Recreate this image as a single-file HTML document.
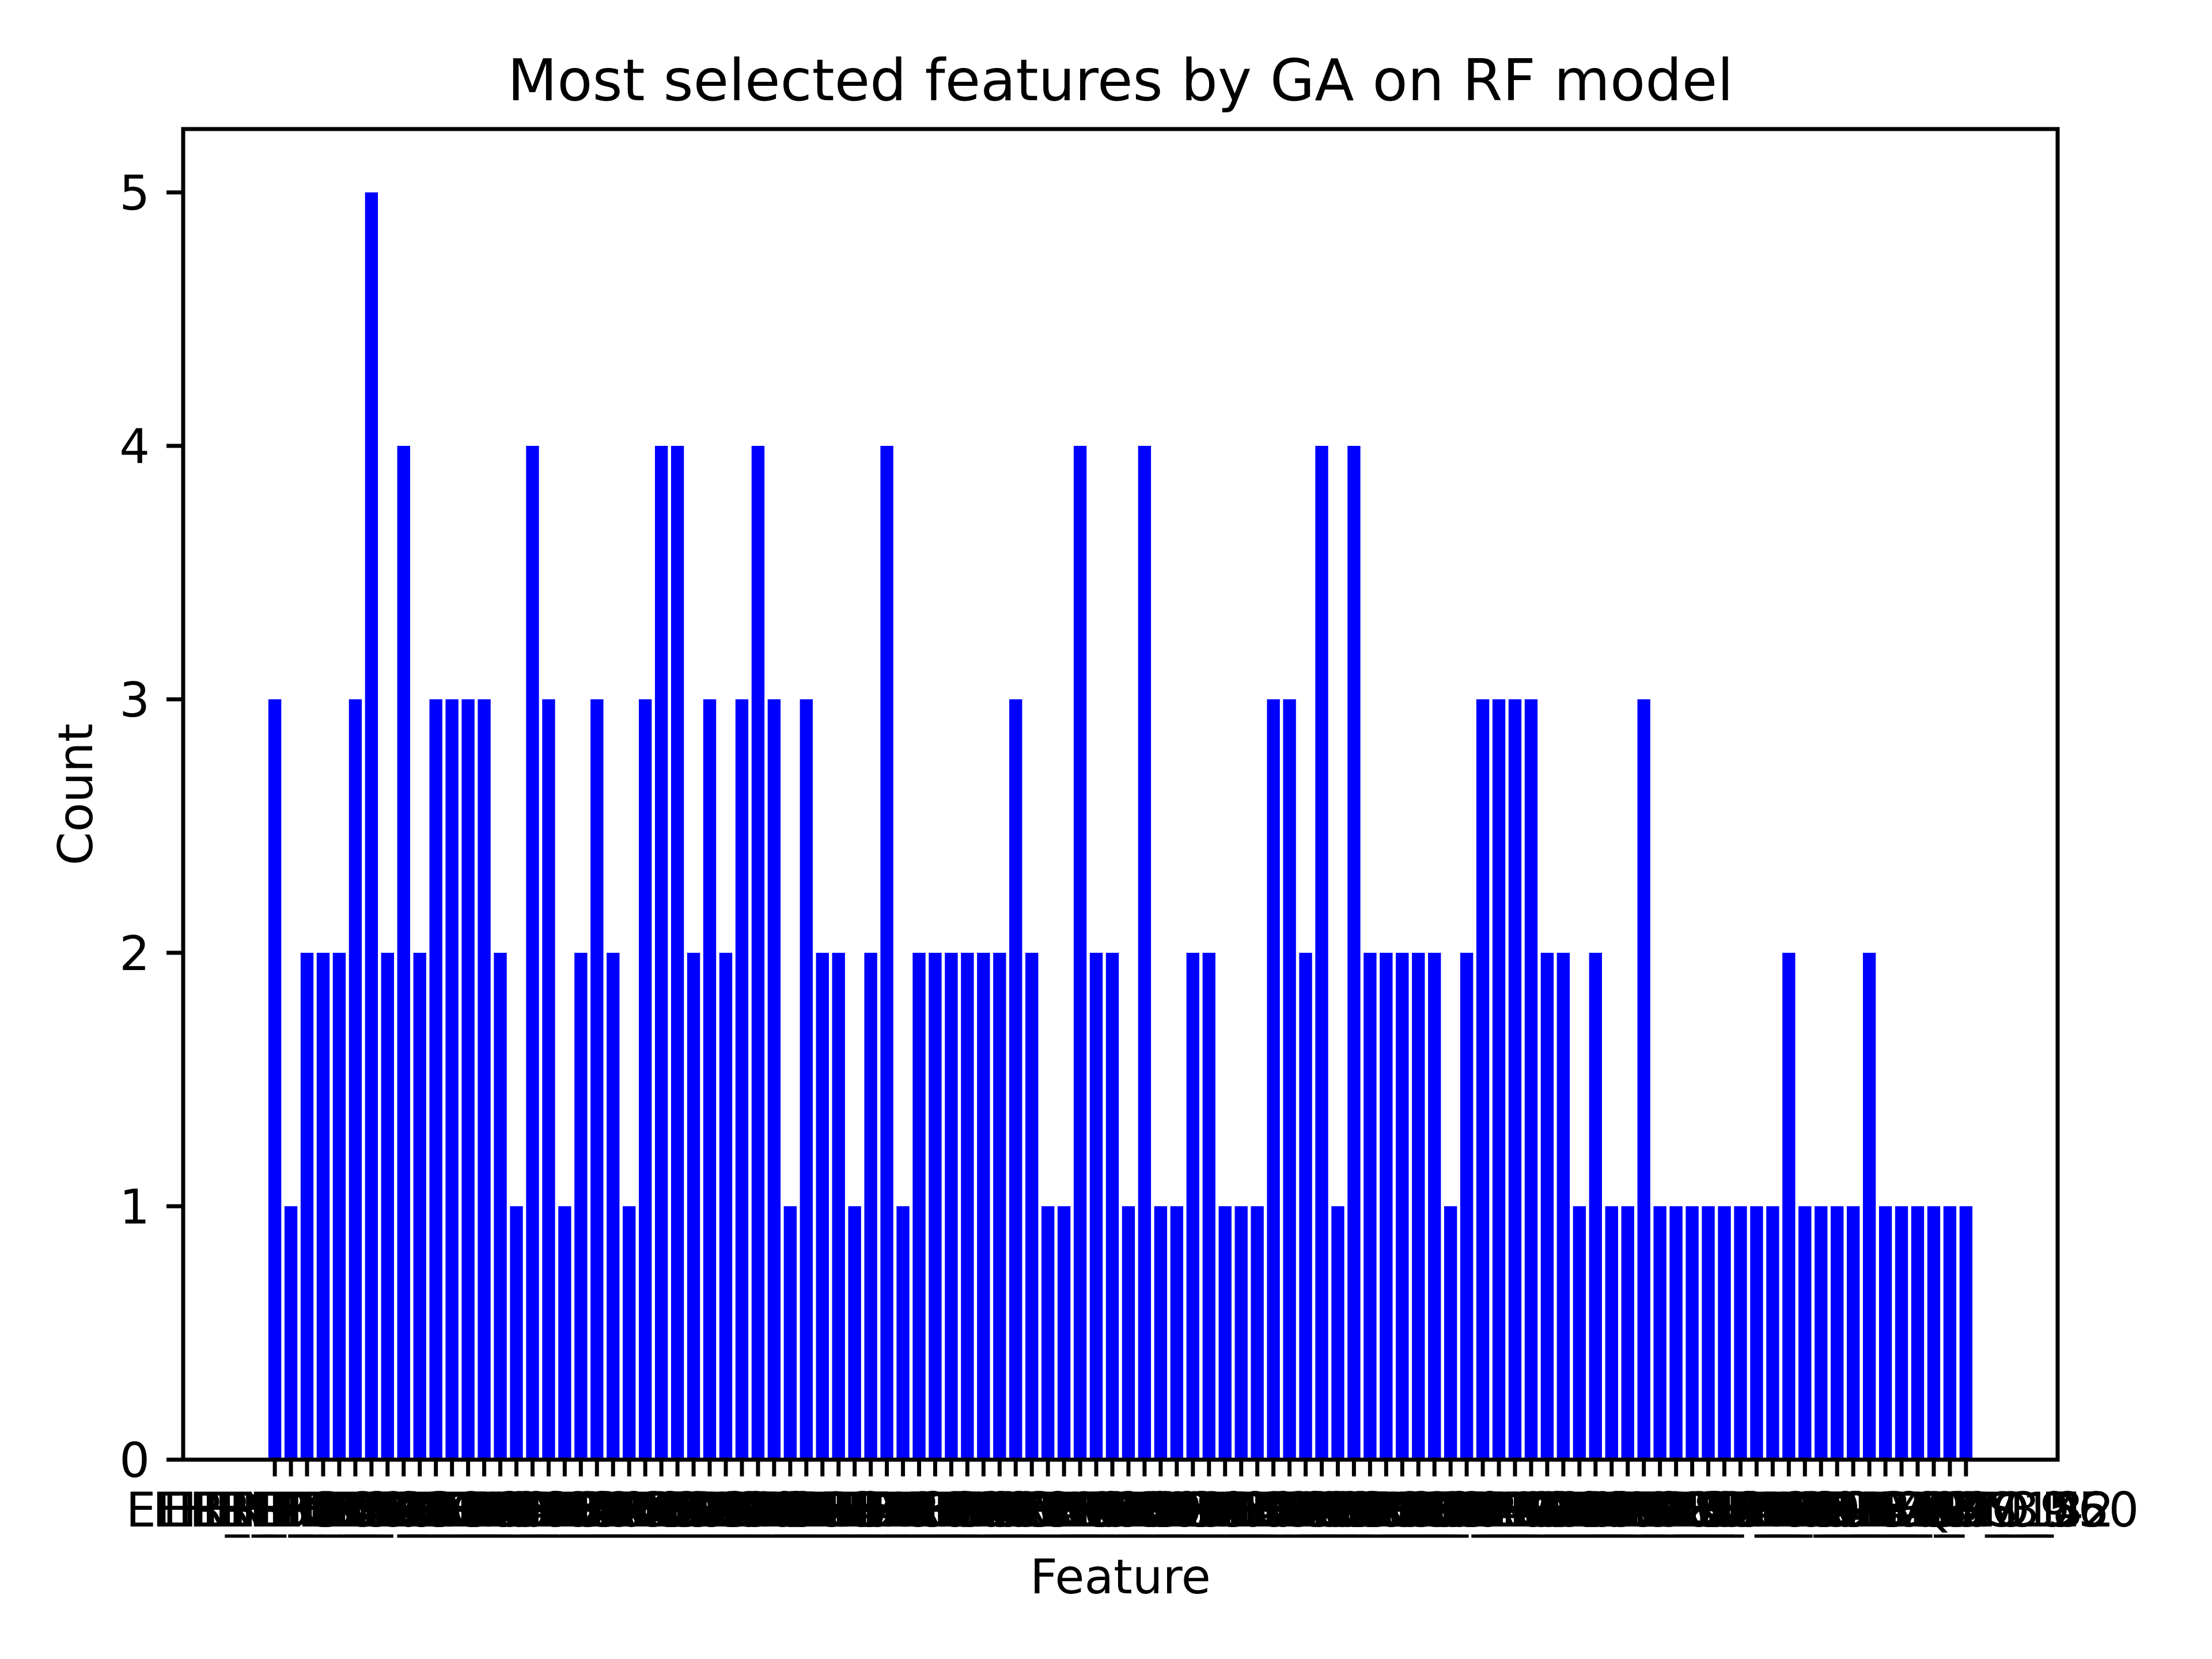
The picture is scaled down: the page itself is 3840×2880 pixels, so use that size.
<!DOCTYPE html>
<html><head><meta charset="utf-8"><style>
html,body{margin:0;padding:0;background:#fff;}
svg{display:block;}
text{font-family:"DejaVu Sans","Liberation Sans",sans-serif;fill:#000;}
</style></head><body>
<svg id="chart" width="3840" height="2880" viewBox="0 0 3840 2880" xmlns="http://www.w3.org/2000/svg">
<rect width="3840" height="2880" fill="#fff"/>
<text x="1945" y="174" font-size="100" text-anchor="middle">Most selected features by GA on RF model</text>
<text x="1945" y="2766" font-size="83" text-anchor="middle">Feature</text>
<text transform="translate(160,1379) rotate(-90)" font-size="83" text-anchor="middle">Count</text>
<g id="bars"></g>
<g id="xticks"></g>
<g id="yticks"></g>
<rect x="318" y="224" width="3254" height="2310" fill="none" stroke="#000" stroke-width="7"/>
</svg>
<script>
const counts = [3,1,2,2,2,3,5,2,4,2, 3,3,3,3,2,1,4,3,1,2, 3,2,1,3,4,4,2,3,2,3, 4,3,1,3,2,2,1,2,4,1, 2,2,2,2,2,2,3,2,1,1, 4,2,2,1,4,1,1,2,2,1, 1,1,3,3,2,4,1,4,2,2, 2,2,2,1,2,3,3,3,3,2, 2,1,2,1,1,3,1,1,1,1, 1,1,1,1,2,1,1,1,1,2, 1,1,1,1,1,1];
const features = ["EHR_FBS_30","EHR_HB_12","EHR_HBA1C","EHR_BMI_3","EHR_SBP_21","EHR_DBP_14","EHR_GLU_52","EHR_CRE_8","EHR_ALT_16","EHR_AST_40",
"EHR_TG_33","EHR_HDL_25","EHR_LDL_18","EHR_TC_11","EHR_UA_27","EHR_WBC_62","EHR_RBC_19","EHR_PLT_45","EHR_NA_23","EHR_K_37",
"EHR_CL_51","EHR_CA_29","EHR_MG_13","EHR_PHOS_9","EHR_ALB_48","EHR_TP_22","EHR_BUN_35","EHR_GGT_17","EHR_ALP_44","EHR_BIL_26",
"EHR_CRP_31","EHR_ESR_57","EHR_INR_15","EHR_PT_42","EHR_PTT_24","EHR_FIB_38","EHR_TSH_20","EHR_FT4_53","EHR_FT3_28","EHR_VITD_7",
"EHR_B12_46","EHR_FOL_34","EHR_FER_12","EHR_IRON_5","EHR_TIBC_9","EHR_MCV_41","EHR_MCH_30","EHR_RDW_22","EHR_NEU_49","EHR_LYM_16",
"EHR_MON_27","EHR_EOS_39","EHR_BAS_11","EHR_HCT_54","EHR_AGE_60","EHR_SEX_2","EHR_HR_43","EHR_RR_18","EHR_TEMP_6","EHR_SPO2_3",
"EHR_WT_36","EHR_HT_25","EHR_WC_47","EHR_HC_14","EHR_WHR_32","EHR_EGFR_8","EHR_ACR_55","EHR_PCR_19","EHR_UPRO_4","EHR_UGLU_2",
"EHR_UKET_7","EHR_USG_13","EHR_UPH_21","EHR_UBLD_9","EHR_UWBC_6","EHR_LPA_44","EHR_APOA_31","EHR_APOB_17","EHR_HCY_28","EHR_INS_52",
"EHR_CPEP_10","EHR_HOMA_3","EHR_CORT_26","EHR_PRL_15","EHR_LH_38","EHR_FSH_24","EHR_E2_41","EHR_TEST_12","EHR_PSA_33","EHR_CEA_20",
"EHR_AFP_29","EHR_CA125_5","EHR_CA199_8","EHR_NTBNP_1","EHR_TROP_46","EHR_CK_37","EHR_LDH_23","EHR_AMY_14","EHR_LIP_50","EHR_PCT_27",
"EHR_IL6_11","EHR_DDIM_39","EHR_LACT_18","EHR_AMMO_42","EHR_OSM_56","EHR_QRS_D50"];
const yTicks = [0,1,2,3,4,5];

const NS = "http://www.w3.org/2000/svg";
const X0 = 318, X1 = 3572, Y0 = 2534, Y1 = 224;
const n = counts.length;
const ext = (n - 1) + 0.8, pad = ext * 0.05;
const xmin = -0.4 - pad, xmax = (n - 1) + 0.4 + pad;
const ymin = 0, ymax = 5.25;
function xs(v){ return X0 + (v - xmin) / (xmax - xmin) * (X1 - X0); }
function ys(v){ return Y0 - (v - ymin) / (ymax - ymin) * (Y0 - Y1); }
const bw = xs(0.8) - xs(0);

const gb = document.getElementById('bars');
const gx = document.getElementById('xticks');
const gy = document.getElementById('yticks');
counts.forEach((c, i) => {
  const r = document.createElementNS(NS, 'rect');
  r.setAttribute('x', xs(i) - bw / 2);
  r.setAttribute('y', ys(c));
  r.setAttribute('width', bw);
  r.setAttribute('height', ys(0) - ys(c));
  r.setAttribute('fill', '#0000ff');
  
  
  gb.appendChild(r);

  const t = document.createElementNS(NS, 'line');
  t.setAttribute('x1', xs(i)); t.setAttribute('x2', xs(i));
  t.setAttribute('y1', Y0); t.setAttribute('y2', Y0 + 29);
  t.setAttribute('stroke', '#000'); t.setAttribute('stroke-width', '7');
  
  
  gx.appendChild(t);

  const l = document.createElementNS(NS, 'text');
  l.setAttribute('x', xs(i));
  l.setAttribute('y', 2650);
  l.setAttribute('font-size', '83');
  l.setAttribute('text-anchor', 'middle');
  l.textContent = features[i];
  
  
  gx.appendChild(l);
});
yTicks.forEach(v => {
  const t = document.createElementNS(NS, 'line');
  t.setAttribute('x1', X0 - 29); t.setAttribute('x2', X0);
  t.setAttribute('y1', ys(v)); t.setAttribute('y2', ys(v));
  t.setAttribute('stroke', '#000'); t.setAttribute('stroke-width', '7');
  
  
  gy.appendChild(t);
  const l = document.createElementNS(NS, 'text');
  l.setAttribute('x', X0 - 58);
  l.setAttribute('y', ys(v) + 30);
  l.setAttribute('font-size', '83');
  l.setAttribute('text-anchor', 'end');
  l.textContent = String(v);
  
  
  gy.appendChild(l);
});
</script>
</body></html>
